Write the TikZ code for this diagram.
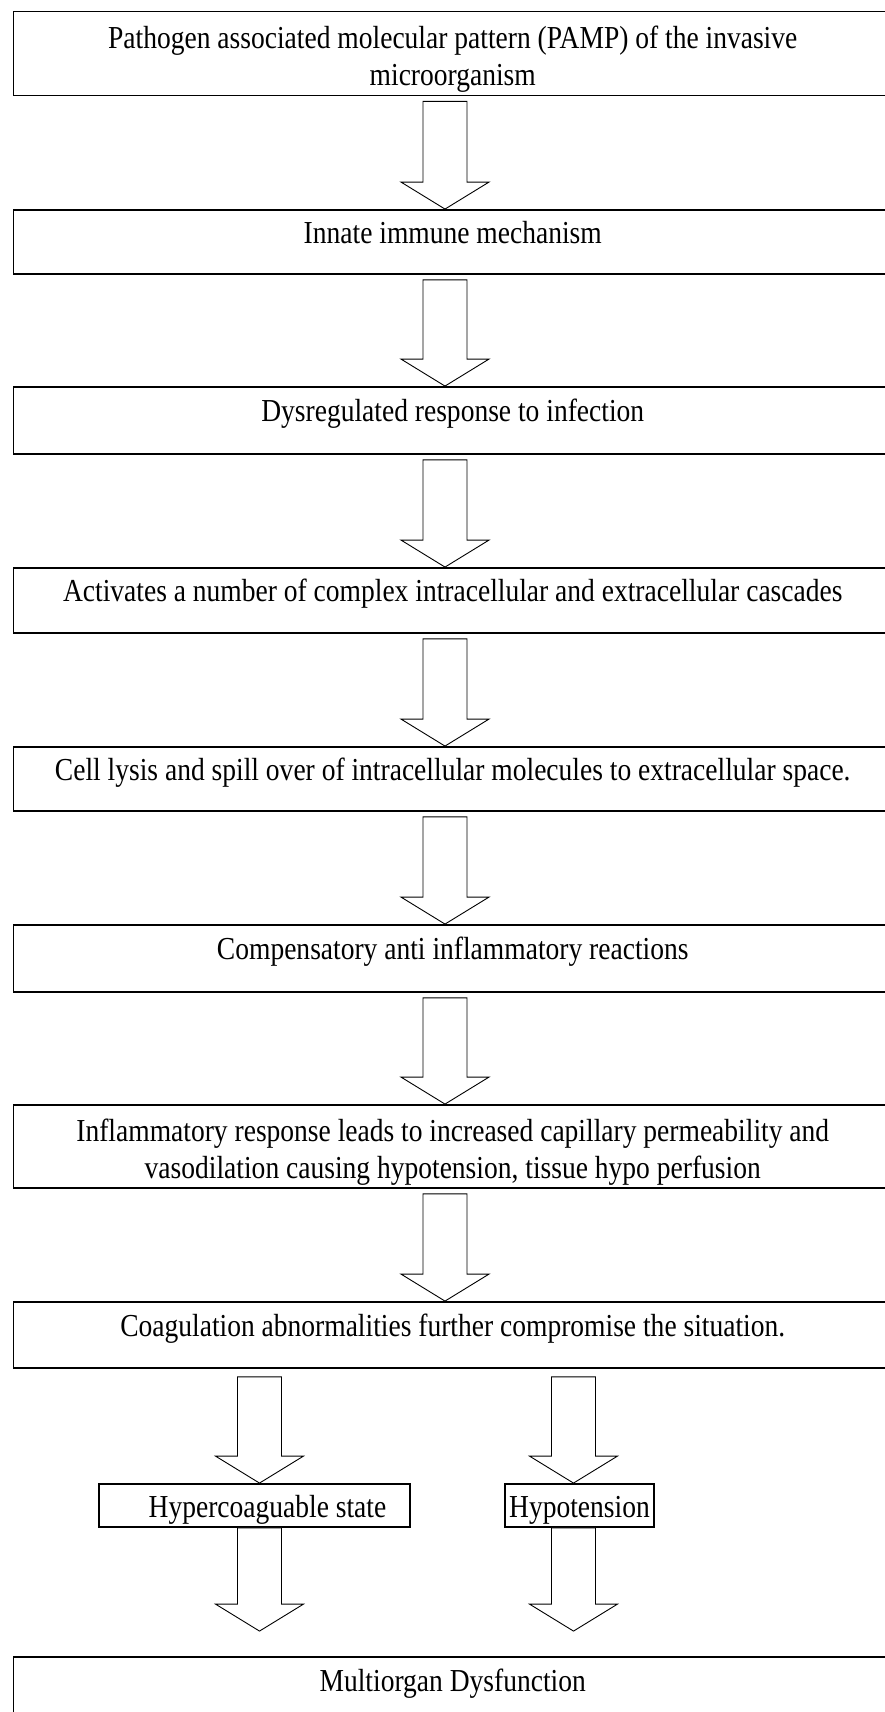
\documentclass[tikz,border=0pt]{standalone}
\usepackage{fontspec}
\setmainfont{Liberation Serif}[FakeStretch=0.86]
\usetikzlibrary{calc}
\tikzset{
box/.style = {draw, line width = 1.8pt, inner sep = 0pt, font = \fontsize{32}{37}\selectfont, align = center},
mainbox/.style = {box, minimum width = 878.5pt},
onerow/.style = {text height = 22pt, text depth = 19pt},
lowrow/.style = {text height = 30pt, text depth = 6pt, minimum height = 43pt},
blockarr/.style = {draw, fill = white, line width = 0.9pt, line join = miter}
}
% block arrow: from node, to node, x, gap at start, gap at end
\newcommand{\downarrowblock}[5]{%
\draw[blockarr] let \p1 = (#1.south), \p2 = (#2.north) in
(#3-22,\y1-#4) -- (#3+22,\y1-#4) -- (#3+22,\y2+#5+27) -- (#3+44,\y2+#5+27) -- (#3,\y2+#5) -- (#3-44,\y2+#5+27) -- (#3-22,\y2+#5+27) -- cycle;
}

\begin{document}
\begin{tikzpicture}[x=1pt,y=1pt]
\useasboundingbox (0,0) rectangle (884,1712);
%
\node[mainbox, minimum height = 84pt] (b1) at (452.75,1658.5) {\rule{0pt}{34pt}Pathogen associated molecular pattern (PAMP) of the invasive\\ microorganism};
\node[mainbox, onerow, minimum height = 64pt] (b2) at (452.75,1470) {Innate immune mechanism};
\node[mainbox, onerow, minimum height = 67pt] (b3) at (452.75,1291.5) {Dysregulated response to infection};
\node[mainbox, onerow, minimum height = 65pt] (b4) at (452.75,1111.5) {Activates a number of complex intracellular and extracellular cascades};
\node[mainbox, onerow, minimum height = 64pt] (b5) at (452.75,933) {Cell lysis and spill over of intracellular molecules to extracellular space.};
\node[mainbox, onerow, minimum height = 67pt] (b6) at (452.75,753.5) {Compensatory anti inflammatory reactions};
\node[mainbox, minimum height = 83pt] (b7) at (452.75,565.5) {\rule{0pt}{34pt}Inflammatory response leads to increased capillary permeability and\\ vasodilation causing hypotension, tissue hypo perfusion};
\node[mainbox, onerow, minimum height = 66pt] (b8) at (452.75,377) {Coagulation abnormalities further compromise the situation.};
%
\node[box, lowrow, minimum width = 311pt] (hyper) at (254.5,206.5) {\hspace*{26pt}Hypercoaguable state};
\node[box, lowrow, minimum width = 149pt] (hypo) at (579.5,206.5) {Hypotension};
%
\node[mainbox, onerow, minimum height = 66pt] (b9) at (452.75,22) {Multiorgan Dysfunction};
%
\foreach \a/\b in {b1/b2,b2/b3,b3/b4,b4/b5,b5/b6,b6/b7,b7/b8}{\downarrowblock{\a}{\b}{445}{5}{0}}
%
\downarrowblock{b8}{hyper}{259.5}{8}{0}
\downarrowblock{b8}{hypo}{573.5}{8}{0}
\downarrowblock{hyper}{b9}{259.5}{0}{25}
\downarrowblock{hypo}{b9}{573.5}{0}{25}
%
\end{tikzpicture}
\end{document}
